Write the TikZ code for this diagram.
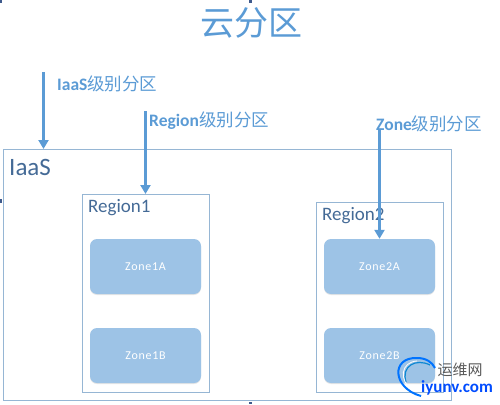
\documentclass[tikz,border=0pt]{standalone}
\usepackage{fontspec}
\setmainfont{Carlito}
\newfontfamily\cjk{Noto Sans CJK SC}
\usetikzlibrary{arrows.meta, positioning, shadows}
\definecolor{linkblue}{RGB}{91,155,213}
\definecolor{boxline}{RGB}{150,182,212}
\definecolor{zonefill}{RGB}{157,195,230}
\definecolor{boxtext}{RGB}{68,106,150}
\definecolor{markblue}{RGB}{63,90,140}

\begin{document}
\begin{tikzpicture}[
    x=1pt, y=-1pt,
    areabox/.style={rectangle, draw=boxline, line width=1.1pt, anchor=north west, inner sep=0pt},
    zone/.style={rectangle, rounded corners=7pt, fill=zonefill, minimum width=111pt, minimum height=55pt, inner sep=0pt, text=white, font=\fontsize{12}{14}\selectfont\addfontfeature{LetterSpace=6}, drop shadow={shadow xshift=0pt, shadow yshift=-1pt, opacity=0.2}},
    boxlabel/.style={text=boxtext, anchor=west, inner sep=0pt},
    level/.style={text=linkblue, anchor=west, inner sep=0pt, font=\fontsize{17.5}{20}\selectfont\bfseries},
    arrow/.style={line width=2.4pt, linkblue, -{Triangle[length=9pt, width=10pt]}}
]
\useasboundingbox (0,0) rectangle (500,404);

\node (title) [text=linkblue, inner sep=0pt, font=\fontsize{34}{36}\selectfont\cjk] at (251,23) {云分区};

\node (iaas) [areabox, minimum width=448pt, minimum height=251pt] at (3,149) {};
\node (region1) [areabox, minimum width=127pt, minimum height=198pt] at (82,194) {};
\node (region2) [areabox, minimum width=127pt, minimum height=190pt] at (316,202) {};

\node (iaaslabel) [boxlabel, font=\fontsize{25}{27}\selectfont] at (9,167) {IaaS};
\node (region1label) [boxlabel, font=\fontsize{19}{21}\selectfont] at (88,208) {Region1};
\node (region2label) [boxlabel, font=\fontsize{19}{21}\selectfont] at (322,216) {Region2};

\node (zone1a) [zone] at (145.5,266.5) {Zone1A};
\node (zone1b) [zone] at (145.5,355.5) {Zone1B};
\node (zone2a) [zone] at (379.5,266.5) {Zone2A};
\node (zone2b) [zone] at (379.5,355.5) {Zone2B};

\node (iaaslevel) [level] at (57,84) {IaaS{\cjk\mdseries 级别分区}};
\node (regionlevel) [level] at (149,121) {Region{\cjk\mdseries 级别分区}};
\node (zonelevel) [level] at (376,124) {Zone{\cjk\mdseries 级别分区}};

\coordinate (iaasstart) at (43.5,72);
\coordinate (regionstart) at (145.5,111);
\coordinate (zonestart) at (379.5,130);

\draw [arrow] (iaasstart) -- (iaas.north -| iaasstart);
\draw [arrow] (regionstart) -- (region1.north -| regionstart);
\draw [arrow] (zonestart) -- (zone2a.north -| zonestart);

% selection marks
\fill [markblue] (0,0) rectangle (2,3);
\fill [markblue] (249,0) rectangle (252,3);
\fill [markblue] (0,199) rectangle (2,203);
\fill [markblue] (249,402) rectangle (252,404);

% watermark
\draw [blue!55!cyan, line width=2pt] (421,396) .. controls (392,388) and (391,357) .. (417,358) .. controls (426,358) and (432,362) .. (435,368);
\draw [cyan!70!blue, line width=1.2pt] (406,382) .. controls (401,366) and (416,358) .. (430,365);
\draw [white, line width=0.8pt] (413,391) .. controls (398,380) and (401,362) .. (417,361);
\node (wmcn) [text=black!65, inner sep=0pt, font=\fontsize{15}{17}\selectfont\cjk] at (460,370) {运维网};
\node (wmen) [text=blue!70!cyan, inner sep=0pt, font=\fontsize{17}{19}\selectfont\bfseries] at (457,388) {iyunv.com};
\end{tikzpicture}
\end{document}
